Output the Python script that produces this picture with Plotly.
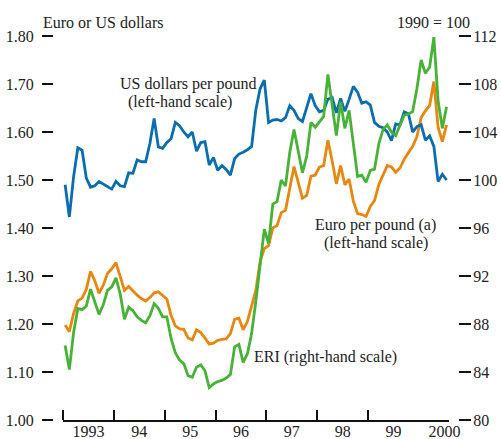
import plotly.graph_objects as go

# Monthly data, Jan 1993 - Jul 2000
start_year = 1993
usd_per_pound = [
    1.490, 1.423, 1.507, 1.567, 1.562, 1.504, 1.485, 1.488, 1.497, 1.492, 1.486, 1.481,
    1.497, 1.488, 1.486, 1.515, 1.514, 1.542, 1.538, 1.538, 1.576, 1.628, 1.569, 1.566,
    1.578, 1.586, 1.620, 1.613, 1.600, 1.590, 1.600, 1.560, 1.578, 1.580, 1.531, 1.547,
    1.520, 1.530, 1.522, 1.510, 1.545, 1.554, 1.558, 1.563, 1.570, 1.646, 1.690, 1.708,
    1.620, 1.625, 1.626, 1.623, 1.630, 1.655, 1.645, 1.628, 1.622, 1.650, 1.680, 1.655,
    1.642, 1.645, 1.668, 1.672, 1.640, 1.670, 1.643, 1.668, 1.695, 1.683, 1.660, 1.663,
    1.656, 1.620, 1.612, 1.609, 1.600, 1.582, 1.617, 1.615, 1.642, 1.638, 1.600, 1.611,
    1.615, 1.583, 1.592, 1.570, 1.497, 1.512, 1.500,
]
euro_per_pound = [
    1.198, 1.184, 1.222, 1.248, 1.254, 1.272, 1.310, 1.290, 1.264, 1.281, 1.305, 1.315,
    1.328, 1.300, 1.270, 1.278, 1.268, 1.260, 1.253, 1.248, 1.255, 1.265, 1.267, 1.260,
    1.252, 1.218, 1.196, 1.190, 1.189, 1.171, 1.167, 1.188, 1.182, 1.171, 1.158, 1.160,
    1.166, 1.168, 1.169, 1.180, 1.210, 1.212, 1.188, 1.205, 1.235, 1.270, 1.330, 1.357,
    1.363, 1.400, 1.405, 1.432, 1.437, 1.480, 1.528, 1.495, 1.462, 1.468, 1.508, 1.510,
    1.527, 1.530, 1.583, 1.540, 1.492, 1.530, 1.490, 1.502, 1.456, 1.430, 1.428, 1.424,
    1.445, 1.457, 1.490, 1.510, 1.530, 1.527, 1.516, 1.525, 1.543, 1.557, 1.570, 1.590,
    1.630, 1.644, 1.655, 1.705, 1.610, 1.580, 1.615,
]
eri = [
    86.2, 84.2, 87.3, 89.3, 89.2, 89.5, 90.9, 89.9, 88.8, 89.6, 90.8, 91.1,
    91.85, 90.5, 88.4, 89.4, 89.1, 88.6, 88.3, 88.1, 88.7, 89.7, 89.3, 88.6,
    88.6, 86.8, 85.6, 85.0, 84.7, 83.7, 83.56, 84.4, 84.6, 84.1, 82.7, 83.0,
    83.2, 83.3, 83.5, 83.8, 86.1, 86.3, 84.8, 85.5, 87.2, 89.9, 93.1, 95.9,
    94.7, 98.0, 98.2, 100.0, 99.5, 102.3, 104.2, 102.3, 100.6, 102.0, 104.8, 104.4,
    104.9, 105.3, 108.8, 106.4, 103.7, 106.5, 104.3, 105.8, 103.2, 100.3, 100.4, 99.8,
    100.8, 100.9, 103.0, 104.2, 104.6, 104.0, 103.7, 104.6, 105.4, 105.5, 105.7, 107.6,
    110.0, 108.9, 109.4, 111.9, 106.6, 104.3, 106.1,
]
year_labels = ["1993", "94", "95", "96", "97", "98", "99", "2000"]
year_starts = [1993, 1994, 1995, 1996, 1997, 1998, 1999]
left_ticks = [1.0, 1.1, 1.2, 1.3, 1.4, 1.5, 1.6, 1.7, 1.8]
right_ticks = [80, 84, 88, 92, 96, 100, 104, 108, 112]

x = [start_year + (i + 0.5) / 12 for i in range(len(usd_per_pound))]

BLUE = "#0a6db0"
ORANGE = "#e8870e"
GREEN = "#46b336"
FONT = '"Liberation Serif", "Times New Roman", "DejaVu Serif", serif'
TXT = "#222222"

fig = go.Figure()
fig.add_trace(go.Scatter(x=x, y=euro_per_pound, mode="lines",
                         line=dict(color=ORANGE, width=2.8), yaxis="y", xaxis="x"))
fig.add_trace(go.Scatter(x=x, y=eri, mode="lines",
                         line=dict(color=GREEN, width=2.8), yaxis="y2", xaxis="x"))
fig.add_trace(go.Scatter(x=x, y=usd_per_pound, mode="lines",
                         line=dict(color=BLUE, width=2.8), yaxis="y", xaxis="x"))

W, H = 501, 439
ml, mr, mt, mb = 53, 43, 36, 19
pw = W - ml - mr
ph = H - mt - mb
x0_px, x1_px = 63, 449
px_per_year = 50.86
xmin = 1993.0
xmax = xmin + (x1_px - x0_px) / px_per_year

fig.update_layout(
    width=W, height=H,
    margin=dict(l=ml, r=mr, t=mt, b=mb, pad=0, autoexpand=False),
    paper_bgcolor="white", plot_bgcolor="white",
    showlegend=False,
    font=dict(family=FONT, size=16, color=TXT),
    xaxis=dict(
        domain=[(x0_px - ml) / pw, (x1_px - ml) / pw],
        range=[xmin, xmax], automargin=False,
        showgrid=False, zeroline=False,
        showline=True, linecolor="#111111", linewidth=1.5,
        tickmode="array",
        tickvals=[y + 0.5 for y in year_starts] + [2000.5],
        ticktext=year_labels,
        ticks="", ticklabelstandoff=-4,
        tickfont=dict(family=FONT, size=16, color=TXT),
        minor=dict(tickmode="array", tickvals=year_starts, ticks="inside",
                   ticklen=10, tickwidth=1.5, tickcolor="#111111", showgrid=False),
        anchor="y",
    ),
    yaxis=dict(
        range=[1.0, 1.8], automargin=False,
        anchor="free", position=0, side="left",
        showgrid=False, zeroline=False, showline=False,
        tickmode="array", tickvals=left_ticks,
        ticktext=[f"{v:.2f}" for v in left_ticks],
        ticks="outside", ticklen=11, tickwidth=1.8, tickcolor="#111111",
        ticklabelstandoff=5,
        tickfont=dict(family=FONT, size=16, color=TXT),
    ),
    yaxis2=dict(
        range=[80, 112], automargin=False,
        overlaying="y", anchor="free", position=1, side="right",
        showgrid=False, zeroline=False, showline=False,
        tickmode="array", tickvals=right_ticks,
        ticktext=[str(v) for v in right_ticks],
        ticks="outside", ticklen=12, tickwidth=1.8, tickcolor="#111111",
        ticklabelstandoff=-1,
        tickfont=dict(family=FONT, size=16, color=TXT),
    ),
)

def note(text, xpx, ypx, anchor="center"):
    fig.add_annotation(text=text, xref="paper", yref="paper",
                       x=(xpx - ml) / pw, y=(H - mb - ypx) / ph,
                       xanchor=anchor, yanchor="middle", showarrow=False,
                       borderpad=0,
                       font=dict(family=FONT, size=16, color=TXT))

note("Euro or US dollars", 42, 22, "left")
note("1990 = 100", 471, 22, "right")
note("US dollars per pound", 188, 84)
note("(left-hand scale)", 180, 102)
note("Euro per pound (a)", 375, 225)
note("(left-hand scale)", 376, 243)
note("ERI (right-hand scale)", 325, 357)

fig.write_html("out.html",
               config={"displayModeBar": False},
               post_script="document.body.style.margin='0';"
                           "document.documentElement.style.overflow='hidden';")
